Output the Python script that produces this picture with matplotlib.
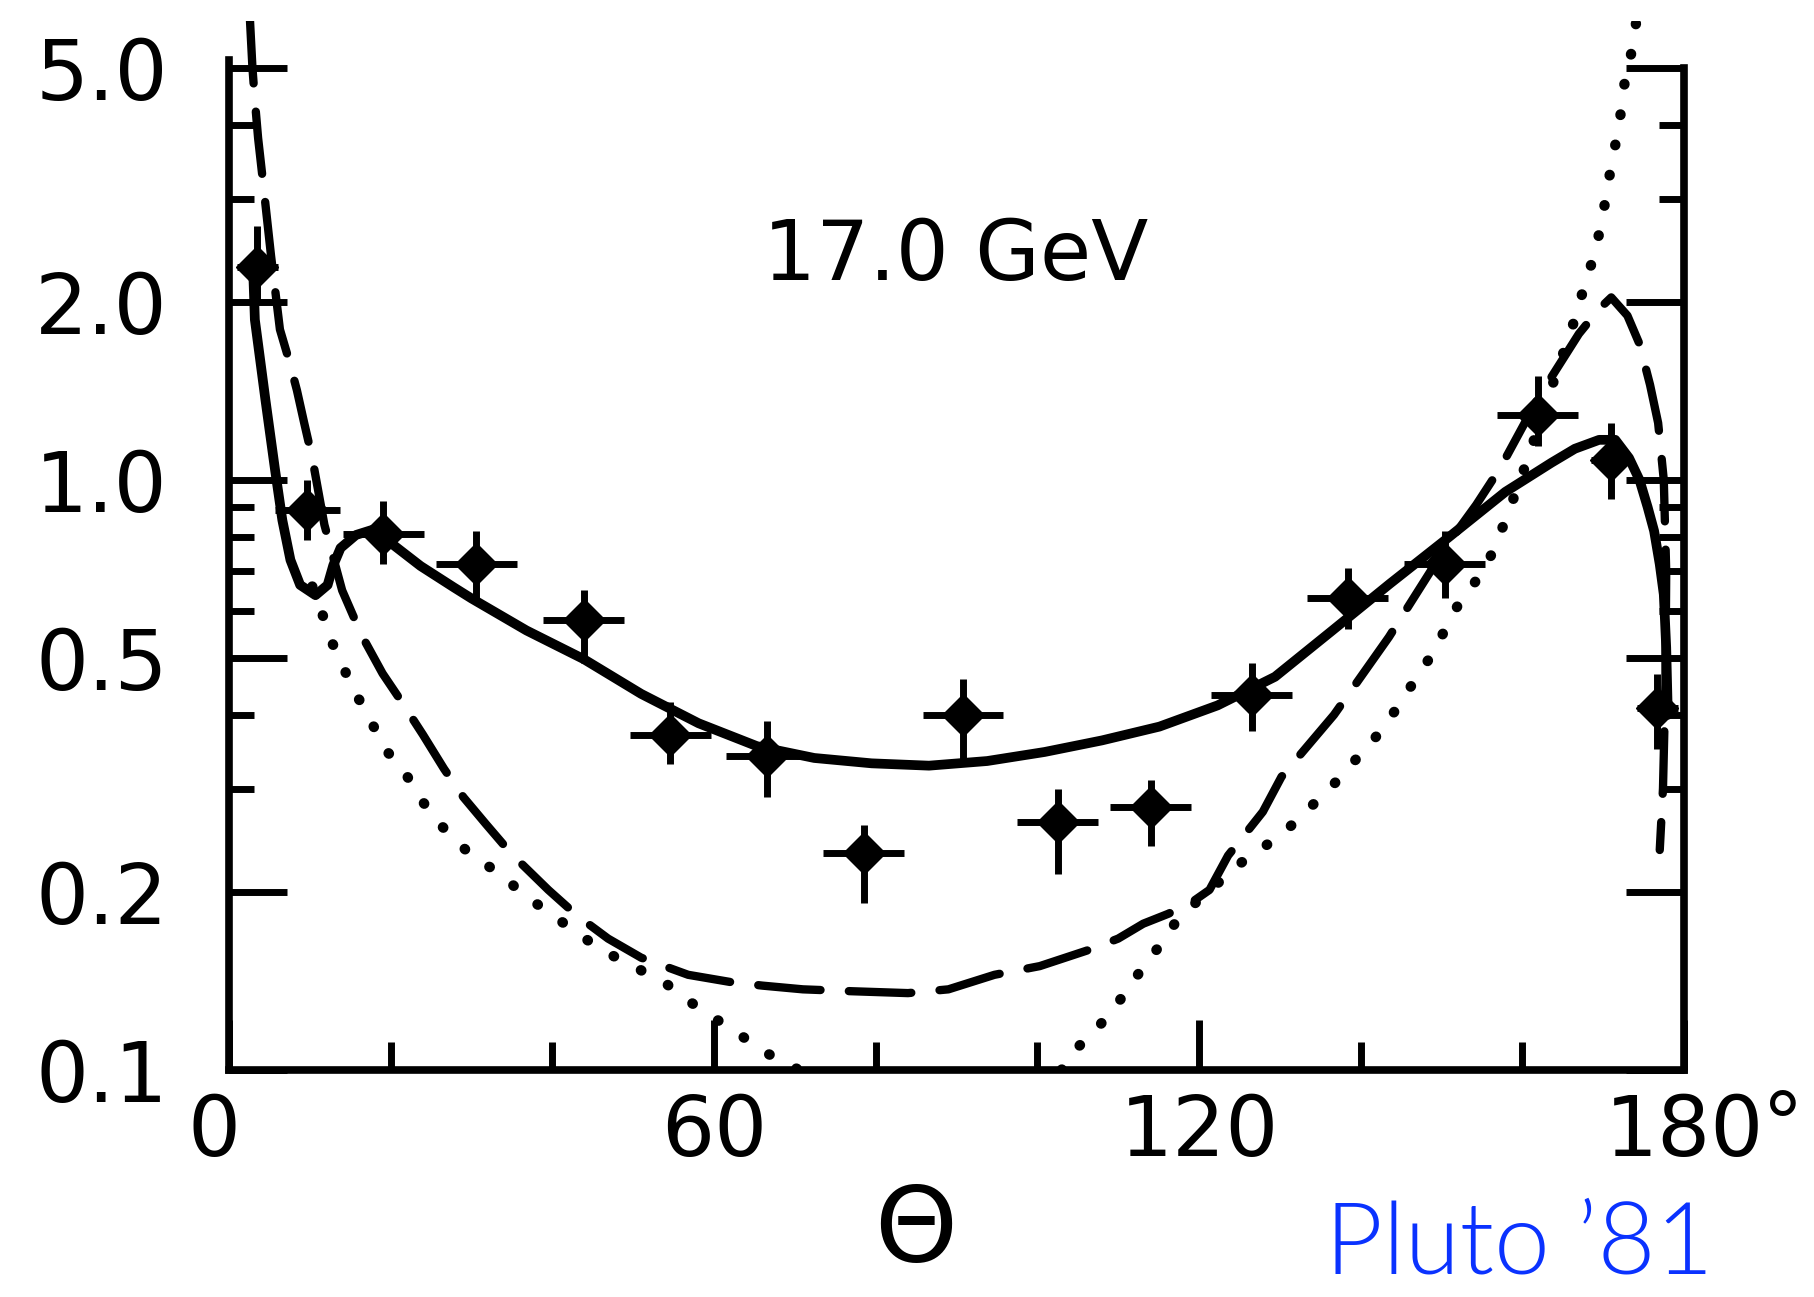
import matplotlib
matplotlib.use("Agg")
import matplotlib.pyplot as plt
from matplotlib import font_manager as fm
from matplotlib.ticker import FixedLocator, NullFormatter
from matplotlib.transforms import ScaledTranslation

# ---------------- data ----------------
# data points: angle (deg), value, error bar ends, horizontal half-width
pt_theta = [3.5, 9.7, 19.1, 30.6, 43.9, 54.6, 66.5, 78.5, 90.8, 102.5, 114.0, 126.5, 138.4, 150.4, 161.9, 171.0, 176.7]
pt_val   = [2.30, 0.89, 0.81, 0.72, 0.58, 0.37, 0.34, 0.233, 0.40, 0.263, 0.279, 0.433, 0.63, 0.72, 1.29, 1.08, 0.41]
pt_lo    = [2.00, 0.79, 0.72, 0.63, 0.49, 0.33, 0.29, 0.192, 0.335, 0.215, 0.240, 0.375, 0.56, 0.63, 1.14, 0.93, 0.35]
pt_hi    = [2.70, 1.00, 0.92, 0.82, 0.65, 0.42, 0.39, 0.260, 0.46, 0.300, 0.310, 0.490, 0.71, 0.82, 1.50, 1.25, 0.47]
pt_xerr  = [2.5, 4.0, 5.0, 5.0, 5.0, 5.0, 5.0, 5.0, 5.0, 5.0, 5.0, 5.0, 5.0, 5.0, 5.0, 2.5, 2.5]

# solid curve
sol_t = [3.0, 3.2, 4.5, 5.7, 6.6, 7.6, 8.8, 10.7, 12.2, 12.9, 13.8, 15.7, 18.4, 20.4, 23.7,
         27.8, 30.0, 36.8, 43.9, 51.0, 58.1, 65.3, 72.4, 79.5, 86.6, 93.8, 100.9, 108.0,
         115.1, 122.3, 129.4, 136.5, 143.6, 150.8, 157.9, 163.6, 166.5, 169.5, 171.5,
         173.2, 174.5, 175.5, 176.3, 177.0, 177.5, 177.8, 178.0]
sol_v = [2.25, 1.87, 1.37, 1.04, 0.855, 0.732, 0.664, 0.638, 0.664, 0.717, 0.767, 0.807, 0.829,
         0.775, 0.715, 0.658, 0.630, 0.556, 0.497, 0.434, 0.387, 0.354, 0.338, 0.331, 0.328,
         0.334, 0.346, 0.362, 0.382, 0.415, 0.464, 0.556, 0.667, 0.798, 0.955, 1.07, 1.13,
         1.17, 1.17, 1.09, 1.0, 0.9, 0.82, 0.72, 0.64, 0.52, 0.40]

# dashed curve
dash_t = [2.6, 2.9, 3.2, 3.6, 4.1, 5.2, 6.3, 7.4, 8.4, 9.3, 10.3, 11.8, 14.0, 16.4, 19.0, 21.3,
          24.0, 26.6, 29.0, 31.8, 35.0, 39.5, 43.0, 46.9, 51.0, 56.8, 62.0, 66.0, 71.0, 77.0,
          84.0, 89.0, 94.7, 100.3, 106.5, 110.0, 113.1, 116.2, 119.0, 121.3, 123.6, 127.9,
          130.2, 136.7, 143.5, 150.8, 154.3, 157.3, 162.0, 167.0, 169.5, 171.0, 173.0, 174.5,
          175.8, 176.8, 177.5, 177.8, 177.7, 177.4, 177.0]
dash_v = [6.0, 5.0, 4.4, 3.8, 3.3, 2.4, 1.80, 1.6, 1.42, 1.25, 1.09, 0.84, 0.65, 0.546, 0.47,
          0.422, 0.37, 0.324, 0.29, 0.261, 0.232, 0.202, 0.183, 0.167, 0.155, 0.145, 0.141,
          0.139, 0.137, 0.136, 0.135, 0.137, 0.145, 0.15, 0.16, 0.167, 0.177, 0.184, 0.192,
          0.202, 0.231, 0.274, 0.314, 0.40, 0.542, 0.78, 0.908, 1.05, 1.38, 1.77, 1.95, 2.04,
          1.9, 1.7, 1.45, 1.25, 1.0, 0.7, 0.45, 0.3, 0.236]

# dotted curve, left and right branches
dotL_t = [10.3, 11.0, 11.8, 12.6, 14.0, 15.2, 16.4, 17.9, 19.3, 21.8, 23.2, 25.6, 27.7, 30.4,
          33.8, 35.7, 37.9, 42.0, 46.0, 50.0, 54.1, 57.2, 63.5, 66.4, 69.4, 70.5]
dotL_v = [0.66, 0.62, 0.58, 0.535, 0.49, 0.441, 0.419, 0.382, 0.35, 0.319, 0.295, 0.265, 0.248,
          0.228, 0.215, 0.202, 0.192, 0.175, 0.160, 0.150, 0.140, 0.130, 0.114, 0.107, 0.102, 0.1]
dotR_t = [103.0, 103.8, 105.5, 107.7, 109.6, 111.2, 113.3, 116.0, 117.3, 121.0, 125.3, 128.8,
          131.2, 133.9, 136.4, 138.5, 140.7, 142.8, 144.9, 147.1, 149.2, 150.5, 152.1, 153.8,
          155.9, 158.0, 160.5, 163.5, 166.7, 167.4, 168.4, 169.2, 169.9, 170.6, 171.0, 171.9,
          172.3, 172.7, 173.6, 174.1]
dotR_v = [0.1, 0.105, 0.111, 0.119, 0.128, 0.137, 0.151, 0.168, 0.18, 0.20, 0.225, 0.243, 0.258,
          0.28, 0.302, 0.326, 0.351, 0.38, 0.419, 0.467, 0.515, 0.561, 0.616, 0.66, 0.733, 0.86,
          1.07, 1.42, 1.91, 2.07, 2.29, 2.50, 2.79, 3.15, 3.43, 3.93, 4.32, 4.77, 5.38, 6.0]

y_major = [0.1, 0.2, 0.5, 1.0, 2.0, 5.0]
y_major_labels = ["0.1", "0.2", "0.5", "1.0", "2.0", "5.0"]
y_minor = [0.3, 0.4, 0.6, 0.7, 0.8, 0.9, 3.0, 4.0]
x_major = [0, 60, 120, 180]
x_major_labels = ["0", "60", "120", "180"]
x_minor = [20, 40, 80, 100, 140, 160]

# ---------------- fonts ----------------
names = {f.name for f in fm.fontManager.ttflist}
if "Liberation Sans Narrow" in names:
    LF, FS = "Liberation Sans Narrow", 74
else:
    LF, FS = "DejaVu Sans", 60
plt.rcParams["font.family"] = [LF, "DejaVu Sans"]

W, H = 1814, 1297
fig = plt.figure(figsize=(W / 100, H / 100), dpi=100)
ax = fig.add_axes([229 / W, 1 - 1070 / H, (1684 - 229) / W, (1070 - 21) / H])
ax.set_yscale("log")
ax.set_xlim(0, 180)
ax.set_ylim(0.1, 6.0)

ax.plot(sol_t, sol_v, color="k", lw=7, solid_capstyle="round", solid_joinstyle="round", zorder=3)
ax.plot(dash_t, dash_v, color="k", lw=6, linestyle=(0, (7.5, 3.4)), dash_capstyle="round",
        dash_joinstyle="round", zorder=3)
for tt, vv in ((dotL_t, dotL_v), (dotR_t, dotR_v)):
    ax.plot(tt, vv, color="k", lw=7.5, linestyle=(0, (0.05, 2.9)), dash_capstyle="round", zorder=3)

yerr = [[v - lo for v, lo in zip(pt_val, pt_lo)], [hi - v for v, hi in zip(pt_val, pt_hi)]]
ax.errorbar(pt_theta, pt_val, xerr=pt_xerr, yerr=yerr, fmt="D", ms=21, color="k",
            ecolor="k", elinewidth=5, capsize=0, zorder=5)

ax.yaxis.set_major_locator(FixedLocator(y_major))
ax.set_yticklabels(y_major_labels)
ax.yaxis.set_minor_locator(FixedLocator(y_minor))
ax.yaxis.set_minor_formatter(NullFormatter())
ax.xaxis.set_major_locator(FixedLocator(x_major))
ax.set_xticklabels(x_major_labels)
ax.xaxis.set_minor_locator(FixedLocator(x_minor))

ax.tick_params(axis="y", which="major", direction="in", length=42, width=5, left=True,
               right=True, pad=44, labelsize=FS)
ax.tick_params(axis="y", which="minor", direction="in", length=18, width=5, left=True, right=True)
ax.tick_params(axis="x", which="major", direction="in", length=36, width=5, top=False,
               pad=16, labelsize=FS)
ax.tick_params(axis="x", which="minor", direction="in", length=20, width=5, top=False)

ax.spines["top"].set_visible(False)
ax.spines["left"].set_bounds(0.1, 5.15)
ax.spines["right"].set_bounds(0.1, 5.0)
for s in ("left", "right", "bottom"):
    ax.spines[s].set_linewidth(5.5)

# the "0" label sits slightly left of its tick in the original
fig.canvas.draw()
for lab in ax.get_xticklabels():
    if lab.get_text() == "0":
        lab.set_transform(lab.get_transform() + ScaledTranslation(-0.15, 0, fig.dpi_scale_trans))

fig.text(1762 / W, 1 - 1088 / H, "°", ha="left", va="top", fontsize=FS)
fig.text(956 / W, 1 - 280 / H, "17.0 GeV", ha="center", va="baseline", fontsize=FS)
fig.text(916 / W, 1 - 1262 / H, "Θ", ha="center", va="baseline", fontsize=76)
fig.text(1519 / W, 1 - 1274 / H, "Pluto \u201981", ha="center", va="baseline",
         color="#0a32ff", fontsize=72, family=["Lato", "DejaVu Sans"], fontweight=300)

fig.savefig("out.png", dpi=100, facecolor="white")
